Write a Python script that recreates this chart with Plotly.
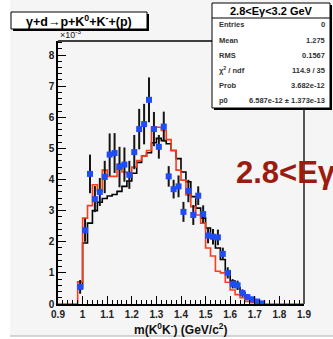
import numpy as np
import plotly.graph_objects as go

# Histogram binning (GeV/c^2)
bin_width = 0.02
first_edge = 0.98
x_lo, x_hi = 0.9, 1.9

# Bin centres 0.99 ... 1.73
centers = [0.99, 1.01, 1.03, 1.05, 1.07, 1.09, 1.11, 1.13, 1.15, 1.17,
           1.19, 1.21, 1.23, 1.25, 1.27, 1.29, 1.31, 1.33, 1.35, 1.37,
           1.39, 1.41, 1.43, 1.45, 1.47, 1.49, 1.51, 1.53, 1.55, 1.57,
           1.59, 1.61, 1.63, 1.65, 1.67, 1.69, 1.71, 1.73]

# Data (x10^-3)
data_vals = [0.55, 2.37, 4.18, 3.37, 3.60, 4.08, 4.80, 4.85, 4.40, 4.48,
             4.15, 4.88, 5.62, 5.78, 6.56, 5.62, 5.05, 5.70, 4.10, 3.69,
             3.78, 2.96, 3.63, 2.86, 3.48, 2.89, 2.20, 2.16, 2.14, 1.61,
             1.00, 0.65, 0.60, 0.35, 0.22, 0.15, 0.08, 0.02]
data_errs = [0.22, 0.37, 0.62, 0.42, 0.45, 0.52, 0.68, 0.64, 0.65, 0.55,
             0.45, 0.55, 0.65, 0.65, 0.72, 0.55, 0.38, 0.48, 0.33, 0.30,
             0.35, 0.32, 0.36, 0.32, 0.30, 0.28, 0.25, 0.25, 0.25, 0.20,
             0.18, 0.15, 0.15, 0.12, 0.10, 0.08, 0.06, 0.04]

# Simulation, black histogram
sim_black = [0.50, 1.96, 2.60, 3.00, 3.27, 3.39, 3.47, 3.52, 3.62, 3.78,
             3.95, 4.20, 4.55, 4.75, 4.86, 5.18, 5.32, 5.25, 5.15, 4.93,
             4.67, 4.24, 3.93, 3.45, 3.08, 2.76, 2.44, 2.12, 1.80, 1.43,
             1.06, 0.74, 0.53, 0.37, 0.20, 0.10, 0.04, 0.00]

# Model, red histogram
sim_red = [0.71, 2.76, 3.16, 3.83, 3.63, 4.30, 4.10, 4.10, 4.50, 4.24,
           4.19, 4.40, 4.61, 4.75, 4.93, 5.68, 5.68, 5.58, 5.28, 4.93,
           4.30, 3.98, 3.50, 3.13, 2.86, 2.60, 1.80, 1.54, 1.05, 1.00,
           0.70, 0.45, 0.30, 0.20, 0.08, 0.04, 0.00, 0.00]

x_ticks = [0.9, 1.0, 1.1, 1.2, 1.3, 1.4, 1.5, 1.6, 1.7, 1.8, 1.9]
x_tick_text = ["0.9", "1", "1.1", "1.2", "1.3", "1.4", "1.5", "1.6", "1.7", "1.8", "1.9"]
y_range = [0, 8.45]

stats_rows = [("Entries", "0"), ("Mean", "1.275"), ("RMS", "0.1567"),
              ("\u03c7<sup>2</sup> / ndf", "114.9 / 35"), ("Prob", "3.682e-12"),
              ("p0", "6.587e-12 \u00b1 1.373e-13")]

W, H = 333, 339
L, R, T, B = 58, 29, 41, 35
PW, PH = W - L - R, H - T - B


def px(x):
    return (x - L) / PW


def py(y):
    return (H - B - y) / PH


edges = first_edge + bin_width * np.arange(len(centers) + 1)


def step_xy(vals, pad=False):
    xs = list(edges)
    ys = list(vals) + [vals[-1]]
    if pad:
        xs = [x_lo] + xs + [x_hi]
        ys = [0.0] + list(vals) + [0.0, 0.0]
    return xs, ys


fig = go.Figure()

bx, by = step_xy(sim_black)
fig.add_trace(go.Scatter(x=bx, y=by, mode="lines", line_shape="hv",
                         line=dict(color="#000000", width=1.6), hoverinfo="skip"))
rx, ry = step_xy(sim_red, pad=True)
fig.add_trace(go.Scatter(x=rx, y=ry, mode="lines", line_shape="hv",
                         line=dict(color="#ff3b1c", width=1.6), hoverinfo="skip"))
fig.add_trace(go.Scatter(x=centers, y=data_vals, mode="markers",
                         marker=dict(symbol="square", size=6, color="#1f4cf5",
                                     line=dict(width=0)),
                         error_y=dict(type="data", array=data_errs, color="#151515",
                                      thickness=2, width=0),
                         hoverinfo="skip"))

shapes = [
    # outer page strips
    dict(type="rect", xref="paper", yref="paper", x0=px(0), x1=px(10), y0=py(H), y1=py(0),
         fillcolor="#ffffff", line=dict(width=0), layer="below"),
    dict(type="rect", xref="paper", yref="paper", x0=px(0), x1=px(W), y0=py(H), y1=py(336),
         fillcolor="#ffffff", line=dict(width=0), layer="below"),
    dict(type="line", xref="paper", yref="paper", x0=px(10), x1=px(W), y0=py(336), y1=py(336),
         line=dict(color="#b0b0b0", width=1)),
    # frame top and right
    dict(type="line", xref="paper", yref="paper", x0=0, x1=1, y0=1, y1=1,
         line=dict(color="#000000", width=1.5)),
    dict(type="line", xref="paper", yref="paper", x0=1, x1=1, y0=0, y1=1,
         line=dict(color="#555555", width=2)),
    # title box shadow + box
    dict(type="rect", xref="paper", yref="paper", x0=px(13), x1=px(149), y0=py(31), y1=py(14),
         fillcolor="#000000", line=dict(width=0)),
    dict(type="rect", xref="paper", yref="paper", x0=px(11), x1=px(147), y0=py(29), y1=py(12),
         fillcolor="#ffffff", line=dict(color="#000000", width=1)),
    # stats box shadow + box
    dict(type="rect", xref="paper", yref="paper", x0=px(214), x1=px(332), y0=py(110), y1=py(5),
         fillcolor="#000000", line=dict(width=0)),
    dict(type="rect", xref="paper", yref="paper", x0=px(212), x1=px(330), y0=py(108), y1=py(3),
         fillcolor="#ffffff", line=dict(color="#000000", width=1)),
    dict(type="line", xref="paper", yref="paper", x0=px(212), x1=px(330), y0=py(18), y1=py(18),
         line=dict(color="#000000", width=1)),
]

annotations = [
    dict(text="\u00d710<sup>-3</sup>", x=px(58), y=py(34), xref="paper", yref="paper",
         xanchor="left", yanchor="middle", showarrow=False,
         font=dict(family="Liberation Sans", size=9, color="#222222")),
    dict(text="<b>\u03b3+d\u2192p+K<sup>0</sup>+K<sup>-</sup>+(p)</b>", x=px(79), y=py(21),
         xref="paper", yref="paper", xanchor="center", yanchor="middle", showarrow=False,
         font=dict(family="Liberation Sans", size=12.5, color="#000000")),
    dict(text="<b>2.8<E\u03b3<3.2 GeV</b>", x=px(271), y=py(10.5), xref="paper", yref="paper",
         xanchor="center", yanchor="middle", showarrow=False,
         font=dict(family="Liberation Sans", size=11, color="#000000")),
    dict(text="<b>2.8<E\u03b3<3.2 GeV</b>", x=px(234), y=py(172), xref="paper", yref="paper",
         xanchor="left", yanchor="middle", showarrow=False,
         font=dict(family="Liberation Sans", size=31, color="#9b1b10")),
    dict(text="<b>m(K<sup>0</sup>K<sup>-</sup>) (GeV/c<sup>2</sup>)</b>", x=px(181), y=py(329),
         xref="paper", yref="paper", xanchor="center", yanchor="middle", showarrow=False,
         font=dict(family="Liberation Sans", size=12, color="#111111")),
]
for i, (lab, val) in enumerate(stats_rows):
    yy = py(25 + 15 * i)
    annotations.append(dict(text="<b>%s</b>" % lab, x=px(217), y=yy, xref="paper", yref="paper",
                            xanchor="left", yanchor="middle", showarrow=False,
                            font=dict(family="Liberation Sans", size=7.5, color="#333333")))
    annotations.append(dict(text="<b>%s</b>" % val, x=px(327), y=yy, xref="paper", yref="paper",
                            xanchor="right", yanchor="middle", showarrow=False,
                            font=dict(family="Liberation Sans", size=7.5, color="#333333")))

tick_font = dict(family="Liberation Sans", size=10, color="#222222")
fig.update_layout(
    width=W, height=H,
    margin=dict(l=L, r=R, t=T, b=B, pad=0),
    paper_bgcolor="#f5f5f5", plot_bgcolor="#f5f5f5",
    showlegend=False,
    shapes=shapes, annotations=annotations,
    xaxis=dict(range=[x_lo, x_hi], tickvals=x_ticks, ticktext=["<b>%s</b>" % t for t in x_tick_text],
               ticks="inside", ticklen=8, tickwidth=1, tickcolor="#000000",
               minor=dict(dtick=0.02, ticks="inside", ticklen=4, tickcolor="#000000", showgrid=False),
               showline=True, linecolor="#000000", linewidth=1.5, showgrid=False, zeroline=False,
               tickfont=tick_font),
    yaxis=dict(range=y_range, dtick=1, tick0=0, ticks="inside", ticklen=8, tickwidth=1,
               tickcolor="#000000", tickprefix="<b>", ticksuffix="</b>",
               minor=dict(dtick=0.2, ticks="inside", ticklen=4, tickcolor="#000000", showgrid=False),
               showline=True, linecolor="#000000", linewidth=1.5, showgrid=False, zeroline=False,
               tickfont=tick_font),
)

fig.write_html("out.html")
